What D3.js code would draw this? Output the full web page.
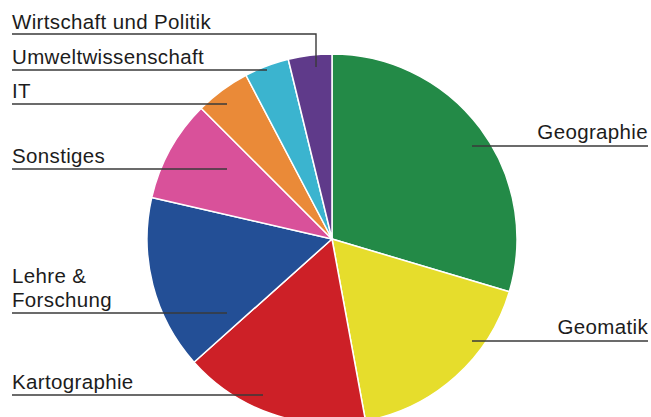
<!DOCTYPE html>
<html>
<head>
<meta charset="utf-8">
<script src="https://cdn.jsdelivr.net/npm/d3@7"></script>
<style>
  html, body { margin: 0; padding: 0; background: #fff; }
  #chart { width: 651px; height: 417px; overflow: hidden; }
</style>
</head>
<body>
<div id="chart"></div>
<script>
// Data, clockwise from 12 o'clock (share in %)
const categories = ["Geographie", "Geomatik", "Kartographie", "Lehre & Forschung",
  "Sonstiges", "IT", "Umweltwissenschaft", "Wirtschaft und Politik"];
const shares = [29.6, 17.5, 16.3, 15.2, 8.9, 4.8, 3.9, 3.8];
const colors = ["#238a47", "#e6dd2c", "#cd2027", "#234f96",
  "#d9519a", "#ea8a38", "#3bb4cf", "#5f3a8a"];

function pageLoad() {

const width = 651;
const height = 417;
const cx = 332, cy = 239, radius = 185;

// label layout: text lines, baseline y, underline y, side, leader end
const labels = [
  { lines: ["Geographie"], base: 139, lineY: 146, side: "right", endX: 472 },
  { lines: ["Geomatik"], base: 334, lineY: 341, side: "right", endX: 472 },
  { lines: ["Kartographie"], base: 389, lineY: 395, side: "left", endX: 263 },
  { lines: ["Lehre &", "Forschung"], base: 307, lineY: 313, side: "left", endX: 227 },
  { lines: ["Sonstiges"], base: 163, lineY: 169, side: "left", endX: 227 },
  { lines: ["IT"], base: 98, lineY: 104, side: "left", endX: 227 },
  { lines: ["Umweltwissenschaft"], base: 64, lineY: 70, side: "left", endX: 267 },
  { lines: ["Wirtschaft und Politik"], base: 29, lineY: 34, side: "left", endX: 316, downTo: 67 }
];

const svg = d3.select("#chart")
  .append("svg")
    .attr("width", width)
    .attr("height", height);

const pie = d3.pie().sort(null).value(d => d);
const arc = d3.arc().innerRadius(0).outerRadius(radius);

const g = svg.append("g")
  .attr("transform", "translate(" + cx + "," + cy + ")");

g.selectAll("path")
  .data(pie(shares))
  .join("path")
    .attr("d", arc)
    .attr("fill", (d, i) => colors[i])
    .attr("stroke", "#fff")
    .attr("stroke-width", 1.5)
    .attr("stroke-linejoin", "round");

// Leader lines
const leaders = svg.append("g")
  .attr("fill", "none")
  .attr("stroke", "#3a3a3a")
  .attr("stroke-width", 1.4);

labels.forEach(function (l) {
  const x0 = l.side === "left" ? 12 : 648;
  let pts = [[x0, l.lineY], [l.endX, l.lineY]];
  if (l.downTo) pts.push([l.endX, l.downTo]);
  leaders.append("path").attr("d", d3.line()(pts));
});

// Label text
const text = svg.append("g")
  .style("font-family", "Arial, 'Liberation Sans', Helvetica, sans-serif")
  .style("font-size", "20.5px")
  .style("letter-spacing", "0.35px")
  .attr("fill", "#1c1c1c");

labels.forEach(function (l, i) {
  const n = l.lines.length;
  l.lines.forEach(function (s, j) {
    text.append("text")
      .attr("x", l.side === "left" ? 12 : 648)
      .attr("y", l.base - (n - 1 - j) * 24)
      .attr("text-anchor", l.side === "left" ? "start" : "end")
      .text(s);
  });
});

}

window.addEventListener("load", pageLoad);
</script>
</body>
</html>
